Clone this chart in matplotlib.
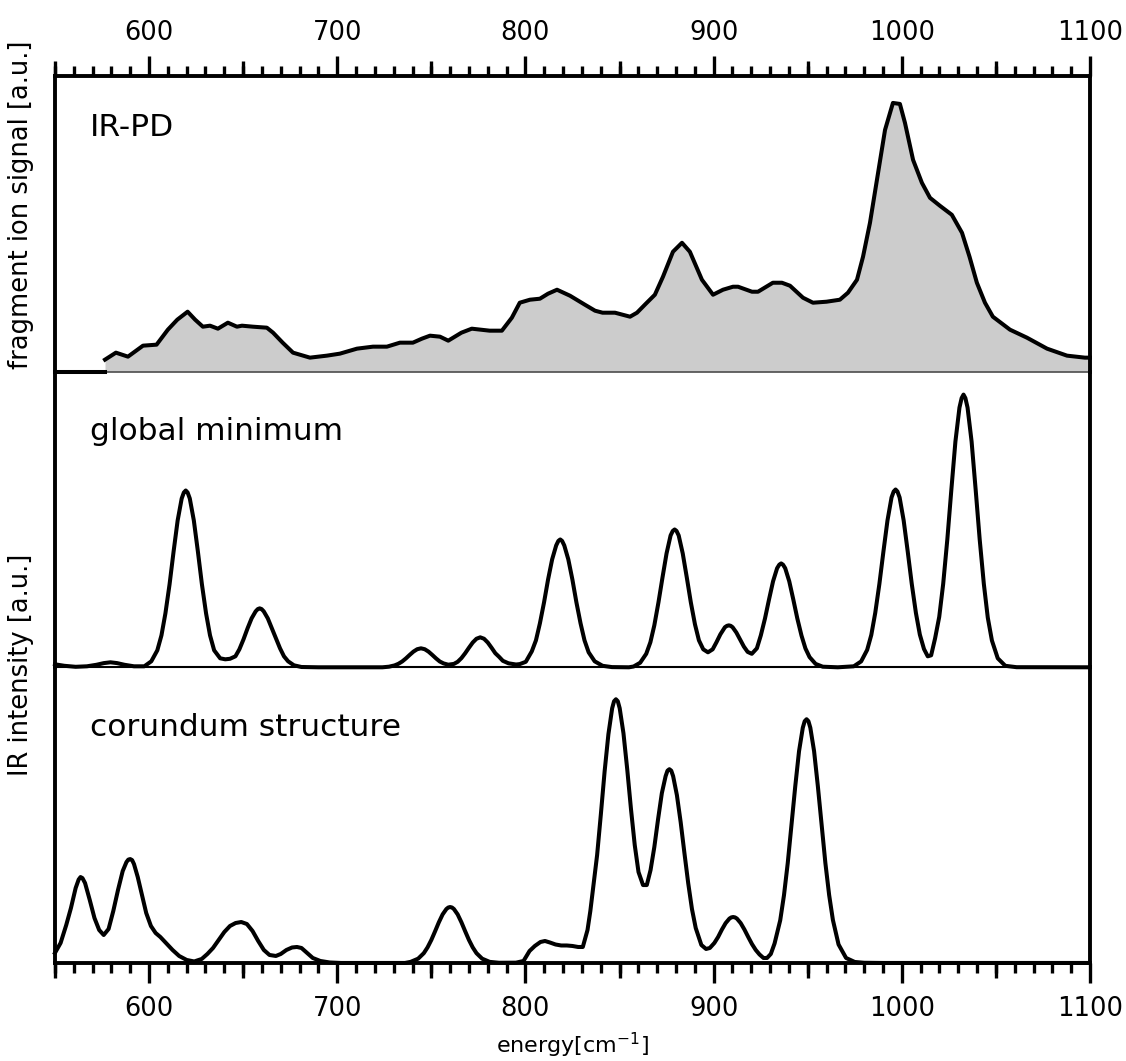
import matplotlib.pyplot as plt
from matplotlib.ticker import MultipleLocator, NullFormatter

# IR-PD spectrum (fragment ion signal), (energy, signal); data starts at ~577 cm-1
irpd_pts = [(576.6, 12), (582.4, 19), (588.8, 15), (596.8, 26), (604, 27), (610, 42), (615, 52),
            (620.5, 60), (624.5, 52), (628.6, 45), (632.4, 46), (636.6, 43), (641.9, 49),
            (646.7, 45), (649.4, 46), (655.2, 45), (662.6, 44), (665.9, 39), (671, 29),
            (676.5, 19), (685.5, 14), (694.5, 16), (701.4, 18), (710.5, 23), (719, 25),
            (726.4, 25), (733.3, 29), (740.2, 29), (745, 33), (749.3, 36), (754.6, 35),
            (759, 31), (766, 39), (771.5, 43), (781, 41), (787.5, 41), (792.8, 54), (797, 69),
            (802.4, 72), (807.7, 73), (812, 78), (816.8, 82), (823.7, 76), (831.6, 67), (837, 61),
            (841, 59), (847.6, 59), (855.6, 55), (859.3, 59), (864, 68), (868.8, 77), (873.1, 95),
            (878.4, 120), (883.2, 129), (887.4, 120), (893.8, 92), (899.7, 77), (905, 82),
            (910.3, 85), (913, 85), (920.4, 80), (923.6, 80), (931.5, 89), (936.3, 89),
            (940.6, 86), (947.5, 74), (952.8, 69), (960, 70), (967.1, 72), (971.4, 79),
            (976.2, 92), (979.4, 115), (983.1, 149), (986.8, 192), (991.1, 242), (995.3, 269),
            (999, 268), (1001.7, 249), (1006, 212), (1010.7, 189), (1015, 174), (1020.3, 166),
            (1026.6, 157), (1032, 139), (1036, 115), (1039.9, 89), (1044.2, 69), (1048.4, 55),
            (1057.5, 42), (1066.5, 34), (1077.2, 23), (1087.8, 16), (1097.3, 14), (1100, 14)]

# calculated IR spectrum, global minimum
glob_pts = [(550, 3), (555, 1.5), (561, 0.5), (567, 1), (572, 2.5), (576, 4.2), (579.5, 5),
            (583, 4.2), (587, 2.5), (592, 1), (597.5, 1), (601.2, 6), (604.4, 17), (606.6, 32),
            (608.7, 54), (610.9, 83), (613.05, 116), (615.2, 147), (617.35, 169), (618.5, 175),
            (619.5, 177), (620.5, 175), (621.65, 169), (623.8, 147), (625.95, 116), (628.1, 83),
            (630.3, 54), (632.4, 32), (634.6, 17), (637.8, 9), (640.5, 8), (643, 8.5),
            (645.9, 11), (648, 18), (650.2, 28), (652.35, 39), (654.5, 49), (656.65, 56),
            (657.8, 58.3), (658.8, 59), (659.8, 58.3), (660.95, 56), (663.1, 49), (665.25, 39),
            (667.4, 29), (669.6, 19), (671.7, 11), (673.9, 6), (677, 2), (681, 0.3), (690, 0),
            (724, 0), (727.5, 0.6), (730.5, 1.9), (732.5, 3.5), (734.5, 5.8), (736.5, 8.9),
            (738.5, 12.4), (740.5, 15.7), (742.5, 18.1), (744.5, 19), (746.5, 18.1),
            (748.5, 15.7), (750.5, 12.4), (752.5, 8.9), (754.5, 5.8), (756.5, 3.9), (759, 2.6),
            (762, 3.4), (764, 5.5), (766, 9.2), (768, 14.1), (770, 19.6), (772, 24.8),
            (774, 28.6), (776, 30), (778, 28.6), (780, 24.8), (782, 19.6), (784, 14.1),
            (786, 10.5), (788, 6.5), (791, 4), (795, 2.8), (797, 3.2), (800.2, 5.5), (803.4, 16),
            (805.6, 27), (807.7, 44), (809.9, 65), (812.05, 88), (814.2, 108), (816.35, 122),
            (817.5, 126.5), (818.5, 128), (819.5, 126.5), (820.65, 122), (822.8, 108),
            (824.95, 88), (827.1, 65), (829.3, 44), (831.4, 27), (833.6, 15), (836.8, 6),
            (841, 1.5), (846, 0.2), (855, 0), (857.5, 0.8), (861, 4.6), (864.2, 13.5),
            (866.4, 25), (868.5, 42), (870.7, 65), (872.85, 90), (875, 114), (877.15, 132),
            (878.3, 136.5), (879.3, 138), (880.3, 136.5), (881.45, 132), (883.6, 114),
            (885.75, 90), (887.9, 65), (890.1, 43), (892.2, 27), (894.5, 18), (897, 15),
            (899.5, 18), (901.5, 25), (903.6, 33), (906, 40.1), (907.1, 41.5), (908.1, 42),
            (909.1, 41.5), (910.1, 40.1), (912.1, 34.8), (914.1, 27.8), (916.1, 20.7),
            (918.1, 15.4), (920.3, 13.5), (923, 19), (925.1, 32), (927.3, 48.8), (929.45, 67.9),
            (931.6, 86.1), (933.75, 99.2), (934.9, 102.7), (935.9, 104), (936.9, 102.7),
            (938.05, 99.2), (940.2, 86.1), (942.35, 67.9), (944.5, 48.8), (946.7, 31.8),
            (948.8, 18.9), (951, 10.2), (954.2, 3.4), (958, 0.6), (966, 0), (974.5, 1),
            (978.4, 5.9), (981.6, 17.4), (983.8, 32.4), (985.9, 54.5), (988.1, 83.5),
            (990.25, 116), (992.4, 147), (994.55, 170), (995.7, 176), (996.7, 178),
            (997.7, 176), (998.85, 170), (1001, 147), (1003.15, 116), (1005.3, 83.5),
            (1007.5, 54.5), (1009.6, 32.7), (1011.8, 18.3), (1013.8, 11), (1015.6, 12),
            (1017.7, 29), (1019.9, 50.5), (1022, 83.5), (1024.2, 128), (1026.35, 178),
            (1028.5, 226), (1030.65, 260), (1031.8, 269.5), (1032.8, 273), (1033.8, 269.5),
            (1034.95, 260), (1037.1, 226), (1039.25, 178), (1041.4, 128), (1043.6, 83.5),
            (1045.7, 49.7), (1047.9, 26.8), (1051, 9), (1055, 1.5), (1061, 0.1), (1100, 0)]

# calculated IR spectrum, corundum structure
cor_pts = [(550, 10), (553, 20), (556, 38), (558.5, 55), (561, 75), (562.6, 83.5), (563.6, 86),
           (564.6, 85), (566, 80), (568.5, 63), (571, 45), (573.5, 33), (575.9, 28), (578.5, 34),
           (581, 52), (583.5, 73), (586, 92), (588, 101), (589, 103.5), (590, 104), (591, 103),
           (592, 99), (594, 86), (596, 70), (598.5, 50), (601, 37), (603.5, 30), (606, 26),
           (609, 20), (612.5, 13), (616, 7), (620, 3), (624, 1.5), (628, 4), (631, 9), (634, 15),
           (637, 23), (640, 31), (643, 37), (646, 40), (649, 41), (652, 39), (655, 32), (658, 22),
           (661, 13), (664, 8), (667.4, 7), (670, 9), (673, 13), (676, 15.5), (678.6, 16),
           (681, 15), (684, 10), (687, 5), (691, 2), (696, 0.5), (702, 0), (736, 0), (739, 1.1),
           (743, 4.3), (746, 9.8), (748, 15.6), (750, 23), (752, 31.7), (754, 40.7), (756, 48.6),
           (758, 54), (759, 55.5), (760, 56), (761, 55.5), (762, 54), (764, 48.6), (766, 40.7),
           (768, 31.7), (770, 23), (772, 15.6), (774, 9.8), (777, 4.3), (781, 1.1), (786, 0.2),
           (795, 0.3), (799, 2), (802.2, 12), (805, 17), (808, 21), (810.4, 22), (813, 20.5),
           (816, 18.5), (819, 17.5), (822, 17.5), (825, 17), (828, 16), (830.5, 16), (833, 33),
           (834.5, 52), (836, 75), (838.1, 108), (840.1, 149), (842.1, 192), (844.1, 229),
           (846.1, 255), (847.1, 262), (848.1, 264), (849.1, 262), (850.1, 255), (852.1, 230),
           (854.1, 194), (856.1, 154), (858.1, 118), (860.1, 91), (862.5, 78), (864.5, 78),
           (866.5, 93), (868.5, 116), (870.5, 144), (872.5, 170), (874.5, 187), (875.5, 192.5),
           (876.5, 194), (877.5, 192.5), (878.5, 187), (880.5, 168), (882.5, 141), (884.5, 110),
           (886.5, 80), (888.5, 54), (890.5, 35), (893.5, 18), (896, 14), (898, 15), (900.4, 20),
           (902.4, 26), (904.4, 33.4), (906.4, 39.9), (908.4, 44.4), (909.4, 45.6), (910.4, 46),
           (911.4, 45.6), (912.4, 44.4), (914.4, 39.9), (916.4, 33.4), (918.4, 26), (920.4, 18.9),
           (922.4, 13), (924.4, 8.5), (926.5, 5), (928.4, 5), (930.4, 9), (932.4, 19.5),
           (935.4, 42.7), (937.4, 67.8), (939.4, 100), (941.4, 138), (943.4, 177), (945.4, 212),
           (947.4, 235.5), (948.4, 242), (949.4, 244), (950.4, 242), (951.4, 235.5),
           (953.4, 212), (955.4, 177), (957.4, 138), (959.4, 100), (961.4, 68), (963.4, 43),
           (966.4, 18.5), (970.4, 5), (975, 1), (980, 0.2), (990, 0), (1100, 0)]

panel_labels = ['IR-PD', 'global minimum', 'corundum structure']
major_ticks = [600, 700, 800, 900, 1000, 1100]
mid_ticks = [550, 650, 750, 850, 950, 1050]
x_range = (550, 1100)
y_top = 296

irpd_x, irpd_y = zip(*irpd_pts)
glob_x, glob_y = zip(*glob_pts)
cor_x, cor_y = zip(*cor_pts)

plt.rcParams['font.family'] = 'DejaVu Sans'
lw_curve = 2.9
lw_spine = 2.8

fig = plt.figure(figsize=(11.26, 10.61), dpi=100)
gs = fig.add_gridspec(3, 1, left=0.0488, right=0.968, top=0.9284, bottom=0.0924, hspace=0)
axes = [fig.add_subplot(gs[i]) for i in range(3)]

for ax in axes:
    ax.set_xlim(x_range)
    ax.set_ylim(0, y_top)
    ax.set_yticks([])
    # transparent so a panel does not hide the lower half of the curve above it
    ax.patch.set_visible(False)
    for side in ['left', 'right', 'top', 'bottom']:
        ax.spines[side].set_linewidth(lw_spine)

# experiment: filled trace, flat zero line before the data starts
ax = axes[0]
ax.fill_between(irpd_x, irpd_y, 0, color='#cccccc', lw=0)
ax.plot(irpd_x, irpd_y, color='k', lw=lw_curve, clip_on=False, solid_joinstyle='round')
ax.plot([x_range[0], irpd_x[0]], [0, 0], color='k', lw=lw_curve, clip_on=False, zorder=3)

# calculated spectra
axes[1].plot(glob_x, glob_y, color='k', lw=lw_curve, clip_on=False, solid_joinstyle='round')
axes[2].plot(cor_x, cor_y, color='k', lw=lw_curve, clip_on=False, solid_joinstyle='round')

# panel separators
axes[0].spines['bottom'].set_linewidth(1.2)
axes[0].spines['bottom'].set_color('0.3')
axes[1].spines['top'].set_visible(False)
axes[1].spines['bottom'].set_linewidth(1.5)
axes[2].spines['top'].set_visible(False)

# ticks: labelled every 100, medium every 50, small every 10
def style_ticks(ax, loc):
    ax.set_xticks(major_ticks)
    ax.xaxis.set_minor_locator(MultipleLocator(10))
    ax.tick_params(axis='x', which='major', direction='out', length=14.4, width=2.4,
                   labelsize=18.5, pad=7 if loc == 'top' else 9.5)
    ax.tick_params(axis='x', which='minor', direction='out', length=7.2, width=2.4)
    sec = ax.secondary_xaxis(loc)
    sec.set_xticks(mid_ticks)
    sec.xaxis.set_major_formatter(NullFormatter())
    sec.tick_params(axis='x', direction='out', length=10.8, width=2.4)
    for s in sec.spines.values():
        s.set_visible(False)

axes[0].xaxis.tick_top()
axes[0].xaxis.set_label_position('top')
style_ticks(axes[0], 'top')
axes[0].tick_params(axis='x', which='both', bottom=False, labelbottom=False)

axes[1].tick_params(axis='x', which='both', bottom=False, top=False,
                    labelbottom=False, labeltop=False)

style_ticks(axes[2], 'bottom')
axes[2].tick_params(axis='x', which='both', top=False)
axes[2].set_xlabel('energy[cm$^{-1}$]', fontsize=16, labelpad=6)

# panel names
label_y = [0.797, 0.768, 0.768]
for ax, name, yy in zip(axes, panel_labels, label_y):
    ax.text(0.034, yy, name, transform=ax.transAxes, fontsize=22.5, va='baseline', ha='left')

# y labels
fig.text(0.019, 1 - 205 / 1061, 'fragment ion signal [a.u.]', rotation=90,
         fontsize=18.5, ha='center', va='center')
fig.text(0.019, 1 - 665 / 1061, 'IR intensity [a.u.]', rotation=90,
         fontsize=18.5, ha='center', va='center')

plt.savefig('out.png', dpi=100)
